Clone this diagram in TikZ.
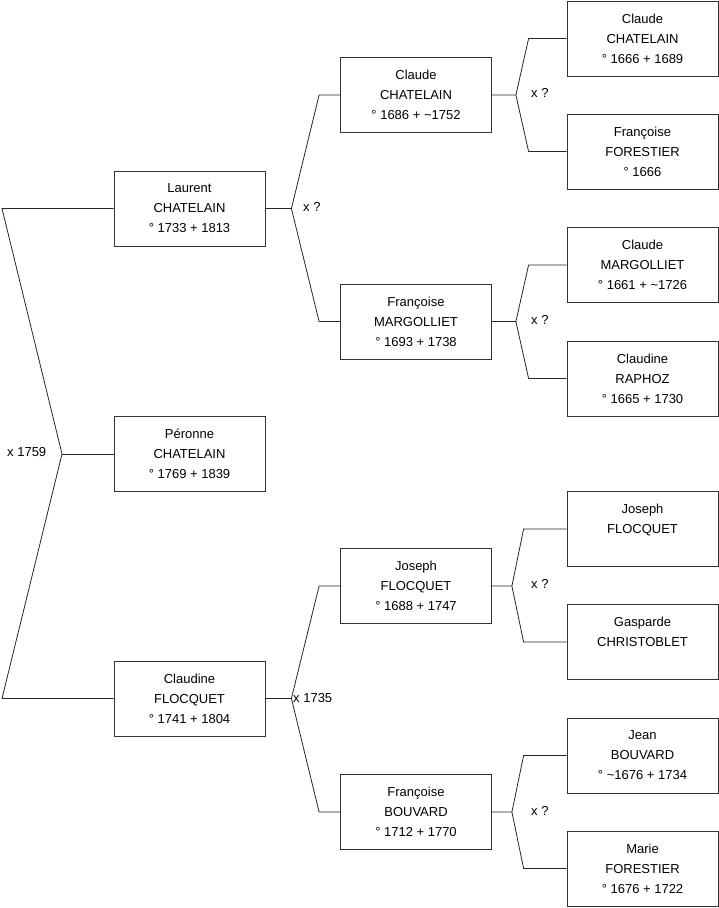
\documentclass[tikz,border=0pt]{standalone}
\usepackage{fontspec}
\setmainfont{Liberation Sans}
\usetikzlibrary{calc}

\tikzset{
  person/.style={draw=black!80, line width=0.8pt, minimum width=151pt, minimum height=75pt,
    inner sep=0pt, align=center, font=\fontsize{13}{20}\selectfont},
  link/.style={draw=black!85, line width=0.8pt},
  union/.style={anchor=west, inner sep=0pt, font=\fontsize{13}{16}\selectfont}
}

\begin{document}
\begin{tikzpicture}[x=1pt,y=-1pt]
\useasboundingbox (0,0) rectangle (719,908);
% Generation 1
\node[person] (laurent)  at (189.5,208.5) {Laurent\\CHATELAIN\\° 1733 + 1813};
\node[person] (peronne)  at (189.5,454)   {Péronne\\CHATELAIN\\° 1769 + 1839};
\node[person] (claudine) at (189.5,698.5) {Claudine\\FLOCQUET\\° 1741 + 1804};
% Generation 2
\node[person] (claudeC)    at (416,95)    {Claude\\CHATELAIN\\° 1686 + \textasciitilde1752};
\node[person] (francoiseM) at (416,321.5) {Françoise\\MARGOLLIET\\° 1693 + 1738};
\node[person] (josephF)    at (416,586)   {Joseph\\FLOCQUET\\° 1688 + 1747};
\node[person] (francoiseB) at (416,812)   {Françoise\\BOUVARD\\° 1712 + 1770};
% Generation 3
\node[person] (g1) at (642.5,38.5)  {Claude\\CHATELAIN\\° 1666 + 1689};
\node[person] (g2) at (642.5,151.5) {Françoise\\FORESTIER\\° 1666};
\node[person] (g3) at (642.5,265)   {Claude\\MARGOLLIET\\° 1661 + \textasciitilde1726};
\node[person] (g4) at (642.5,378.5) {Claudine\\RAPHOZ\\° 1665 + 1730};
\node[person] (g5) at (642.5,529)   {Joseph\\FLOCQUET\\\mbox{}};
\node[person] (g6) at (642.5,642)   {Gasparde\\CHRISTOBLET\\\mbox{}};
\node[person] (g7) at (642.5,755.5) {Jean\\BOUVARD\\° \textasciitilde1676 + 1734};
\node[person] (g8) at (642.5,868.5) {Marie\\FORESTIER\\° 1676 + 1722};

% Left bracket (parents of Péronne)
\coordinate (v0) at (62,454);
\coordinate (l0a) at (2,208.5);
\coordinate (l0b) at (2,698.5);
\draw[link] (laurent.west) -- (l0a) -- (v0) -- (l0b) -- (claudine.west);
\draw[link] (v0) -- (peronne.west);

% Other brackets: child / father / mother / vertex offset / arm offset
\foreach \c/\f/\m/\a/\b in {laurent/claudeC/francoiseM/26/21, claudine/josephF/francoiseB/26/21,
    claudeC/g1/g2/24/38, francoiseM/g3/g4/24/38, josephF/g5/g6/20/43, francoiseB/g7/g8/20/43} {
  \coordinate (v\c) at ($(\c.east)+(\a,0)$);
  \draw[link] (\c.east) -- (v\c) -- ($(\f.west)+(-\b,0)$) -- (\f.west);
  \draw[link] (v\c) -- ($(\m.west)+(-\b,0)$) -- (\m.west);
}

% Marriages
\node[union] (m0) at (7,452)   {x 1759};
\node[union] (m1) at (303,207) {x ?};
\node[union] (m2) at (293,698) {x 1735};
\node[union] (m3) at (531,93)  {x ?};
\node[union] (m4) at (531,320) {x ?};
\node[union] (m5) at (531,584) {x ?};
\node[union] (m6) at (531,811) {x ?};
\end{tikzpicture}
\end{document}
